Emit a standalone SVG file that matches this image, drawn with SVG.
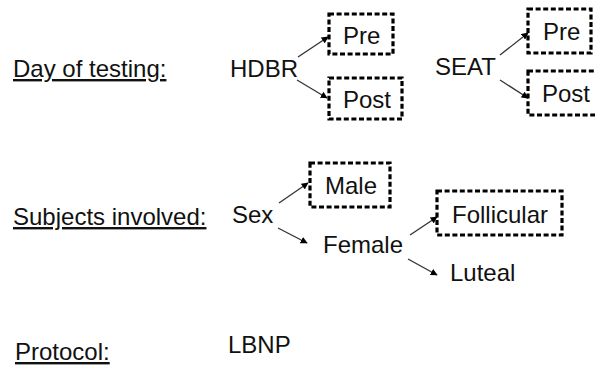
<svg xmlns="http://www.w3.org/2000/svg" width="595" height="370" viewBox="0 0 595 370">
  <style>
    text { font-family: "Liberation Sans", Arial, sans-serif; font-size: 24px; fill: #111; }
    .heading { text-decoration: underline; }
    .box { fill: none; stroke: #000; stroke-width: 3.2; stroke-dasharray: 5 2.6; }
    .link { fill: none; stroke: #333; stroke-width: 1.3; marker-end: url(#tip); }
  </style>
  <defs>
    <marker id="tip" viewBox="0 0 10 10" refX="9" refY="5" markerWidth="7" markerHeight="7" markerUnits="userSpaceOnUse" orient="auto">
      <path d="M0,0 L10,5 L0,10 Z" fill="#000"/>
    </marker>
  </defs>
  <rect width="595" height="370" fill="#fff"/>

  <!-- section headings -->
  <g id="heading-day">
    <text class="heading" x="13" y="77">Day of testing:</text>
  </g>
  <g id="heading-subjects">
    <text class="heading" x="13" y="225">Subjects involved:</text>
  </g>
  <g id="heading-protocol">
    <text class="heading" x="15" y="360">Protocol:</text>
  </g>

  <!-- day of testing -->
  <g id="hdbr"><text x="230" y="77">HDBR</text></g>
  <g id="hdbr-pre">
    <rect class="box" x="329" y="14" width="64" height="40"/>
    <text x="343" y="44">Pre</text>
  </g>
  <g id="hdbr-post">
    <rect class="box" x="329" y="78" width="73" height="41"/>
    <text x="343" y="108">Post</text>
  </g>
  <g id="seat"><text x="435" y="75">SEAT</text></g>
  <g id="seat-pre">
    <rect class="box" x="528" y="9" width="63" height="44"/>
    <text x="543" y="40">Pre</text>
  </g>
  <g id="seat-post">
    <rect class="box" x="528" y="71" width="80" height="44"/>
    <text x="542" y="102">Post</text>
  </g>

  <!-- subjects involved -->
  <g id="sex"><text x="232" y="223">Sex</text></g>
  <g id="male">
    <rect class="box" x="310" y="163" width="80" height="44"/>
    <text x="325" y="194">Male</text>
  </g>
  <g id="female"><text x="323" y="253">Female</text></g>
  <g id="follicular">
    <rect class="box" x="437" y="191" width="125" height="44"/>
    <text x="452" y="223">Follicular</text>
  </g>
  <g id="luteal"><text x="450" y="281">Luteal</text></g>

  <!-- protocol -->
  <g id="lbnp"><text x="228" y="353">LBNP</text></g>

  <g id="connectors">
    <line class="link" x1="298" y1="57" x2="328" y2="37"/>
    <line class="link" x1="297" y1="80" x2="327" y2="98"/>
    <line class="link" x1="500" y1="55" x2="528" y2="33"/>
    <line class="link" x1="500" y1="80" x2="528" y2="98"/>
    <line class="link" x1="279" y1="203" x2="308" y2="183"/>
    <line class="link" x1="278" y1="228" x2="307" y2="243"/>
    <line class="link" x1="410" y1="235" x2="437" y2="217"/>
    <line class="link" x1="408" y1="259" x2="437" y2="275"/>
  </g>
</svg>
